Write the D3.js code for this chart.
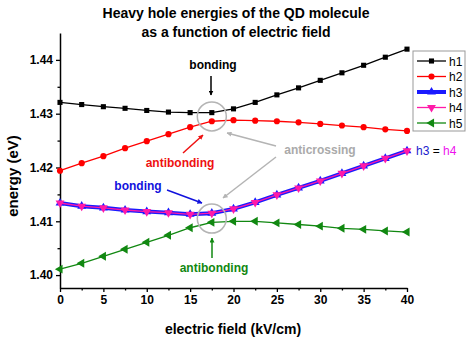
<!DOCTYPE html>
<html>
<head>
<meta charset="utf-8">
<script src="https://cdn.jsdelivr.net/npm/d3@7"></script>
<style>
  body { margin: 0; background: white; }
  text { font-family: "Liberation Sans", Arial, sans-serif; }
</style>
</head>
<body>
<div id="canvas"></div>
<script>
var w = 474;
var h = 341;

// data (field in kV/cm, energy in eV)
var field = [0, 2.5, 5, 7.5, 10, 12.5, 15, 17.5, 20, 22.5, 25, 27.5, 30, 32.5, 35, 37.5, 40];
var h1 = [1.4321, 1.4317, 1.4313, 1.4310, 1.4306, 1.4303, 1.4302, 1.4302, 1.4309, 1.4321, 1.4335, 1.4348, 1.4362, 1.4376, 1.4390, 1.4405, 1.4420];
var h2 = [1.4194, 1.4208, 1.4221, 1.4236, 1.4249, 1.4262, 1.4275, 1.4286, 1.4288, 1.4287, 1.4286, 1.4284, 1.4281, 1.4278, 1.4275, 1.4271, 1.4268];
var h3 = [1.4134, 1.4128, 1.4125, 1.4121, 1.4118, 1.4116, 1.4113, 1.4115, 1.4123, 1.4135, 1.4149, 1.4162, 1.4175, 1.4189, 1.4203, 1.4217, 1.4231];
var h4 = h3.slice();
var h5 = [1.4011, 1.4022, 1.4035, 1.4048, 1.4061, 1.4074, 1.4088, 1.4098, 1.4100, 1.4100, 1.4097, 1.4094, 1.4091, 1.4087, 1.4085, 1.4082, 1.4080];

var xTicks = [0, 5, 10, 15, 20, 25, 30, 35, 40];
var xMinor = [2.5, 7.5, 12.5, 17.5, 22.5, 27.5, 32.5, 37.5];
var yTicks = [1.40, 1.41, 1.42, 1.43, 1.44];
var yMinor = [1.405, 1.415, 1.425, 1.435];

var series = [
    {name: "h1", values: h1, color: "black", width: 1.3, symbol: d3.symbolSquare, size: 26, rot: 0},
    {name: "h2", values: h2, color: "#ff0000", width: 1.3, symbol: d3.symbolCircle, size: 30, rot: 0},
    {name: "h3", values: h3, color: "#1a1aff", width: 4, symbol: d3.symbolTriangle, size: 34, rot: 0},
    {name: "h4", values: h4, color: "#ff1aa8", width: 1.3, symbol: d3.symbolTriangle, size: 34, rot: 180},
    {name: "h5", values: h5, color: "#118811", width: 1.3, symbol: d3.symbolTriangle, size: 34, rot: -90}
];

var svg = d3.select("#canvas").append("svg")
    .attr("width", w)
    .attr("height", h)
    .style("background-color", "white");

var x = d3.scaleLinear().domain([0, 40]).range([60, 407]);
var y = d3.scaleLinear().domain([1.3976, 1.445]).range([288, 33]);

// arrowheads
var defs = svg.append("defs");
["black", "red", "blue", "green", "gray"].forEach(function(c) {
    var col = {black: "black", red: "#ee1111", blue: "#1111dd", green: "#118811", gray: "#b4b4b4"}[c];
    defs.append("marker")
        .attr("id", "arr-" + c)
        .attr("viewBox", "0 0 10 10")
        .attr("refX", 9).attr("refY", 5)
        .attr("markerWidth", 5).attr("markerHeight", 5)
        .attr("markerUnits", "userSpaceOnUse")
        .attr("orient", "auto")
        .append("path")
        .attr("d", "M0,0 L10,5 L0,10 Z")
        .attr("fill", col);
});

// title
svg.append("text").attr("x", 236).attr("y", 18).attr("text-anchor", "middle")
    .style("font-size", "14px").style("font-weight", "bold").text("Heavy hole energies of the QD molecule");
svg.append("text").attr("x", 236).attr("y", 37).attr("text-anchor", "middle")
    .style("font-size", "14px").style("font-weight", "bold").text("as a function of electric field");

// axes
var xAxis = svg.append("g").attr("transform", "translate(0,288)")
    .call(d3.axisBottom(x).tickValues(xTicks).tickSize(4).tickSizeOuter(0).tickPadding(3));
svg.append("g").attr("transform", "translate(0,288)")
    .call(d3.axisBottom(x).tickValues(xMinor).tickSize(2.5).tickSizeOuter(0).tickFormat(""))
    .select(".domain").remove();
var yAxis = svg.append("g").attr("transform", "translate(60,0)")
    .call(d3.axisLeft(y).tickValues(yTicks).tickSize(4).tickSizeOuter(0).tickPadding(3).tickFormat(d3.format(".2f")));
svg.append("g").attr("transform", "translate(60,0)")
    .call(d3.axisLeft(y).tickValues(yMinor).tickSize(2.5).tickSizeOuter(0).tickFormat(""))
    .select(".domain").remove();

svg.selectAll(".domain").attr("stroke", "black").attr("stroke-width", 1.5);
svg.selectAll(".tick line").attr("stroke", "black").attr("stroke-width", 1.3);
svg.selectAll(".tick text").attr("fill", "black")
    .style("font-size", "12px").style("font-weight", "bold")
    .style("font-family", "'Liberation Sans', Arial, sans-serif");

svg.append("text").attr("x", 233).attr("y", 334).attr("text-anchor", "middle")
    .style("font-size", "14px").style("font-weight", "bold").text("electric field (kV/cm)");
svg.append("text").attr("transform", "translate(18,176) rotate(-90)").attr("text-anchor", "middle")
    .style("font-size", "15px").style("font-weight", "bold").text("energy (eV)");

// series
var line = d3.line().x(function(d) { return x(d[0]); }).y(function(d) { return y(d[1]); });

series.forEach(function(s) {
    var pts = field.map(function(f, i) { return [f, s.values[i]]; });
    svg.append("path")
        .datum(pts)
        .attr("fill", "none")
        .attr("stroke", s.color)
        .attr("stroke-width", s.width)
        .attr("d", line);
    svg.selectAll(".pt-" + s.name)
        .data(pts)
        .join("path")
        .attr("class", "pt-" + s.name)
        .attr("transform", function(d) { return "translate(" + x(d[0]) + "," + y(d[1]) + ") rotate(" + s.rot + ")"; })
        .attr("d", d3.symbol().type(s.symbol).size(s.size))
        .attr("fill", s.color);
});

// legend
var lg = svg.append("g");
lg.append("rect").attr("x", 413).attr("y", 51).attr("width", 52).attr("height", 80)
    .attr("fill", "white").attr("stroke", "#999").attr("stroke-width", 1);
series.forEach(function(s, i) {
    var ly = 61 + i * 15.5;
    lg.append("line").attr("x1", 417).attr("x2", 446).attr("y1", ly).attr("y2", ly)
        .attr("stroke", s.color).attr("stroke-width", s.width);
    lg.append("path")
        .attr("transform", "translate(431.5," + ly + ") rotate(" + s.rot + ")")
        .attr("d", d3.symbol().type(s.symbol).size(s.size))
        .attr("fill", s.color);
    lg.append("text").attr("x", 449).attr("y", ly + 4.5)
        .style("font-size", "12px").text(s.name);
});

var eq = svg.append("text").attr("x", 416).attr("y", 155).style("font-size", "12px");
eq.append("tspan").attr("fill", "#1a1acc").text("h3");
eq.append("tspan").attr("fill", "black").text(" = ");
eq.append("tspan").attr("fill", "#ee11ee").text("h4");

// annotations
var cx = x(17.5);
svg.append("circle").attr("cx", cx).attr("cy", y(1.4295)).attr("r", 14.5)
    .attr("fill", "none").attr("stroke", "#b4b4b4").attr("stroke-width", 1.5);
svg.append("circle").attr("cx", cx).attr("cy", y(1.4105)).attr("r", 14.5)
    .attr("fill", "none").attr("stroke", "#b4b4b4").attr("stroke-width", 1.5);

function label(tx, ty, txt, col) {
    svg.append("text").attr("x", tx).attr("y", ty).attr("text-anchor", "middle")
        .attr("fill", col).style("font-size", "12px").style("font-weight", "bold").text(txt);
}
function arrow(x1, y1, x2, y2, col, key) {
    svg.append("line").attr("x1", x1).attr("y1", y1).attr("x2", x2).attr("y2", y2)
        .attr("stroke", col).attr("stroke-width", 1.5)
        .attr("marker-end", "url(#arr-" + key + ")");
}

label(213, 69, "bonding", "black");
arrow(211, 76, 211, 95, "black", "black");

label(180, 167, "antibonding", "#ee1111");
arrow(183, 153, 203, 135, "#ee1111", "red");

label(138, 190, "bonding", "#1111dd");
arrow(167, 190, 202, 203, "#1111dd", "blue");

label(214, 272, "antibonding", "#118811");
arrow(212, 258, 212, 238, "#118811", "green");

label(320, 154, "anticrossing", "#aaaaaa");
arrow(276, 146, 227, 133, "#b4b4b4", "gray");
arrow(276, 157, 223, 198, "#b4b4b4", "gray");
</script>
</body>
</html>
